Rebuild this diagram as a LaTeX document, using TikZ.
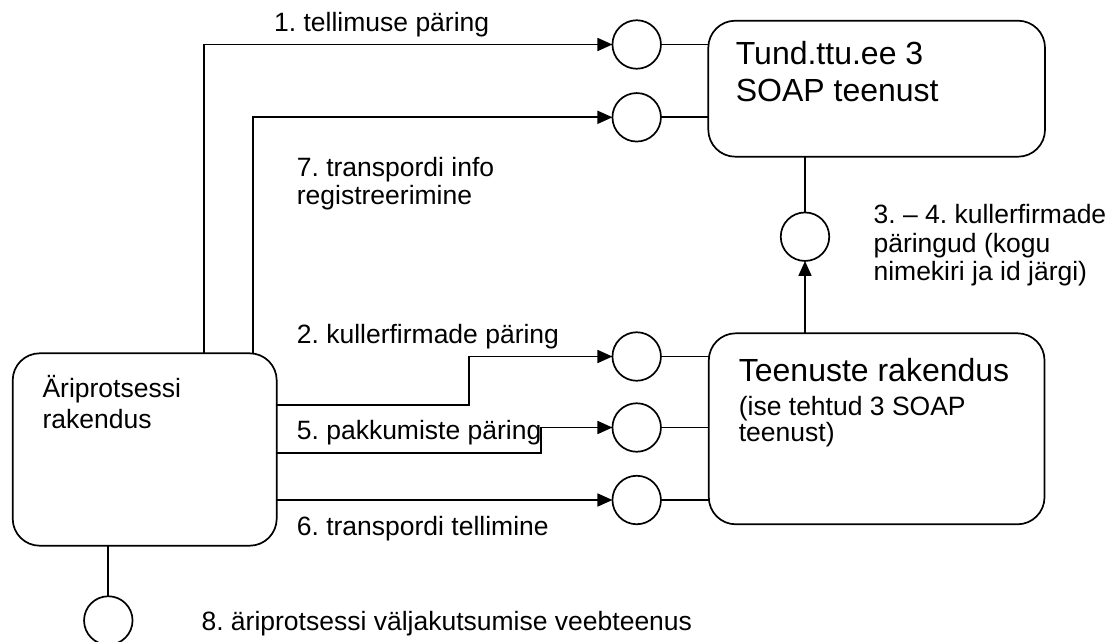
\documentclass[tikz,border=0pt]{standalone}
\usepackage{fontspec}
\setmainfont{Liberation Sans}
\usetikzlibrary{arrows.meta}
\frenchspacing
\begin{document}
\begin{tikzpicture}[x=1pt,y=-1pt,
  line width=1.7pt,
  appbox/.style={draw,rectangle,rounded corners=27pt,inner sep=0pt,outer sep=0pt},
  port/.style={draw,circle,minimum size=48.5pt,inner sep=0pt,outer sep=0pt,fill=white},
  lbl/.style={anchor=base west,inner sep=0pt,font=\fontsize{26.5}{30}\selectfont},
  ttl/.style={anchor=base west,inner sep=0pt,font=\fontsize{32}{36}\selectfont},
  flow/.style={-{Triangle[length=15pt,width=13pt]}}]
\useasboundingbox (0,0) rectangle (1111,642);

% application boxes
\node[appbox,minimum width=336.7pt,minimum height=136pt] (tund) at (876.65,88.7) {};
\node[appbox,minimum width=335.7pt,minimum height=191pt] (teen) at (876.65,428.8) {};
\node[appbox,minimum width=264pt,minimum height=192.4pt] (ari) at (144.7,449.5) {};

% service interfaces
\node[port] (c1) at (636.7,44.5) {};
\node[port] (c2) at (636.7,117.3) {};
\node[port] (c3) at (805,236.7) {};
\node[port] (c4) at (636.7,356.5) {};
\node[port] (c5) at (636.7,427.5) {};
\node[port] (c6) at (636.7,500) {};
\node[port] (c8) at (108.3,620.5) {};

% attachment points on the business process box
\coordinate (o1) at (204.3,353.3);
\coordinate (o7) at (252.7,353.3);
\coordinate (o2) at (ari.east |- 0,405);
\coordinate (o5) at (ari.east |- 0,452.7);
\coordinate (o6) at (ari.east |- c6);
\coordinate (k2) at (469,405);
\coordinate (k5) at (541,452.7);

% requests
\draw[flow] (o1) |- (c1.west);
\draw[flow] (o7) |- (c2.west);
\draw[flow] (o2) -- (k2) |- (c4.west);
\draw[flow] (o5) -- (k5) |- (c5.west);
\draw[flow] (o6) -- (c6.west);
\draw[flow] (c3 |- teen.north) -- (c3.south);

% interfaces attached to their providers
\draw (c1.east) -- (c1 -| tund.west);
\draw (c2.east) -- (c2 -| tund.west);
\draw (c3 |- tund.south) -- (c3.north);
\draw (c4.east) -- (c4 -| teen.west);
\draw (c5.east) -- (c5 -| teen.west);
\draw (c6.east) -- (c6 -| teen.west);
\draw (c8 |- ari.south) -- (c8.north);

% box titles
\node[ttl] (t1) at (735,65) {Tund.ttu.ee 3};
\node[ttl] (t2) at (735,101.7) {SOAP teenust};
\node[ttl] (t3) at (738,381.7) {Teenuste rakendus};
\node[lbl] (t4) at (738,415) {(ise tehtud 3 SOAP};
\node[lbl] (t5) at (738,441.7) {teenust)};
\node[lbl] (t6) at (41.7,397.3) {Äriprotsessi};
\node[lbl] (t7) at (41.7,428.3) {rakendus};

% flow labels
\node[lbl] (l1) at (273.3,31.7) {1. tellimuse päring};
\node[lbl] (l7a) at (296,176.7) {7. transpordi info};
\node[lbl] (l7b) at (296,204.5) {registreerimine};
\node[lbl] (l3a) at (872.7,223.3) {3. – 4. kullerfirmade};
\node[lbl] (l3b) at (872.7,252) {päringud (kogu};
\node[lbl] (l3c) at (872.7,280) {nimekiri ja id järgi)};
\node[lbl] (l2) at (296,343.3) {2. kullerfirmade päring};
\node[lbl] (l5) at (296,439.3) {5. pakkumiste päring};
\node[lbl] (l6) at (296,535) {6. transpordi tellimine};
\node[lbl] (l8) at (200.7,630) {8. äriprotsessi väljakutsumise veebteenus};
\end{tikzpicture}
\end{document}
